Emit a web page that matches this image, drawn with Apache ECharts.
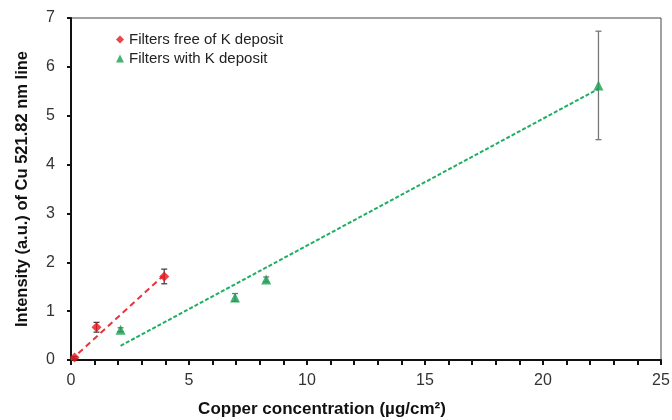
<!DOCTYPE html>
<html><head><meta charset="utf-8">
<script src="https://cdn.jsdelivr.net/npm/echarts@6/dist/echarts.min.js"></script>
<style>html,body{margin:0;padding:0;background:#fff}#c{width:672px;height:420px}</style>
</head><body><div id="c"></div>
<script>
var redX = [0.15, 1.08, 3.95];
var redY = [0.05, 0.67, 1.71];
var redErr = [0.02, 0.10, 0.15];
var greenX = [2.1, 6.95, 8.27, 22.35];
var greenY = [0.62, 1.28, 1.65, 5.62];
var greenErr = [0.04, 0.08, 0.05, 1.11];
var redFitX = [0.0, 3.9];
var redFitY = [0.0, 1.72];
var greenFitX = [2.1, 22.35];
var greenFitY = [0.29, 5.55];
var xTicks = [0, 5, 10, 15, 20, 25];
var yTicks = [0, 1, 2, 3, 4, 5, 6, 7];

function pairs(xs, ys){ return xs.map(function(x,i){return [x, ys[i]];}); }
function errData(xs, ys, es){ return xs.map(function(x,i){return [x, ys[i]-es[i], ys[i]+es[i]];}); }
function errRender(color){
  return function(params, api){
    var lo = api.coord([api.value(0), api.value(1)]);
    var hi = api.coord([api.value(0), api.value(2)]);
    var w = 3;
    var st = {stroke: color, lineWidth: 1.3};
    return {type:'group', children:[
      {type:'line', shape:{x1:lo[0],y1:lo[1],x2:hi[0],y2:hi[1]}, style:st},
      {type:'line', shape:{x1:lo[0]-w,y1:lo[1],x2:lo[0]+w,y2:lo[1]}, style:st},
      {type:'line', shape:{x1:hi[0]-w,y1:hi[1],x2:hi[0]+w,y2:hi[1]}, style:st}
    ]};
  };
}
var chart = echarts.init(document.getElementById('c'));
var font = 'Liberation Sans, Arial, sans-serif';
chart.setOption({
  animation: false,
  textStyle: {fontFamily: font},
  grid: {left: 71, right: 11, top: 18, bottom: 60, show: true, borderColor: '#444', borderWidth: 1,
         containLabel: false, outerBoundsMode: 'none'},
  legend: {
    orient: 'vertical', left: 111, top: 27, itemWidth: 8, itemHeight: 8, itemGap: 4,
    data: ['Filters free of K deposit', 'Filters with K deposit'],
    textStyle: {fontSize: 15, color: '#222', fontFamily: font}
  },
  xAxis: {
    type: 'value', min: xTicks[0], max: xTicks[xTicks.length-1], interval: 5,
    name: 'Copper concentration (µg/cm²)', nameLocation: 'middle', nameGap: 41,
    nameTextStyle: {fontSize: 17, fontWeight: 'bold', color: '#111', fontFamily: font, padding: [0, 88, 0, 0]},
    axisLine: {lineStyle: {color: '#111', width: 2}},
    axisTick: {show: true, inside: false, length: 5, lineStyle: {color: '#111', width: 2}},
    minorTick: {show: true, splitNumber: 5, length: 5, lineStyle: {color: '#111', width: 2}},
    axisLabel: {fontSize: 16, color: '#333', margin: 13, fontFamily: font},
    splitLine: {show: false}
  },
  yAxis: {
    type: 'value', min: yTicks[0], max: yTicks[yTicks.length-1], interval: 1,
    name: 'Intensity (a.u.) of Cu 521.82 nm line', nameLocation: 'middle', nameGap: 40,
    nameTextStyle: {fontSize: 16.5, fontWeight: 'bold', color: '#111', fontFamily: font},
    axisLine: {show: true, lineStyle: {color: '#111', width: 2}},
    axisTick: {show: true, inside: false, length: 4, lineStyle: {color: '#111', width: 2}},
    axisLabel: {fontSize: 16, color: '#333', margin: 16, fontFamily: font},
    splitLine: {show: false}
  },
  series: [
    {name: 'redFit', type: 'line', data: pairs(redFitX, redFitY), symbol: 'none', silent: true,
     lineStyle: {color: '#e8343a', width: 2, type: [6, 4]}, z: 2},
    {name: 'greenFit', type: 'line', data: pairs(greenFitX, greenFitY), symbol: 'none', silent: true,
     lineStyle: {color: '#1fae63', width: 2, type: [4, 2]}, z: 2},
    {name: 'redErr', type: 'custom', renderItem: errRender('#444'), data: errData(redX, redY, redErr), z: 3},
    {name: 'greenErr', type: 'custom', renderItem: errRender('#777'), data: errData(greenX, greenY, greenErr), z: 3},
    {name: 'Filters free of K deposit', type: 'scatter', data: pairs(redX, redY), symbol: 'diamond', symbolSize: 10,
     itemStyle: {color: '#e8141c'}, z: 4},
    {name: 'Filters with K deposit', type: 'scatter', data: pairs(greenX, greenY), symbol: 'triangle', symbolSize: 10,
     itemStyle: {color: '#16a050'}, z: 4}
  ]
});
</script></body></html>
